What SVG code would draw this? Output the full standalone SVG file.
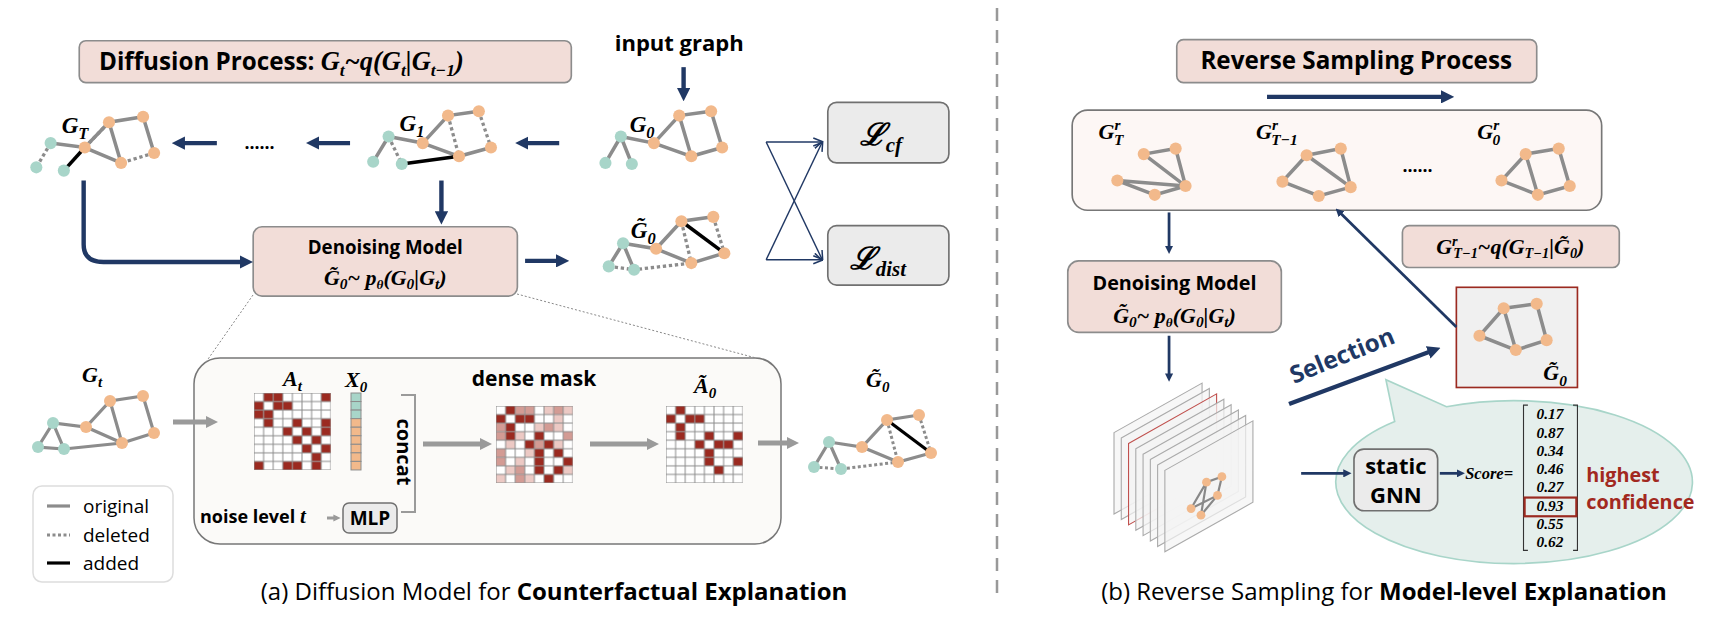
<svg xmlns="http://www.w3.org/2000/svg" width="1726" height="626" viewBox="0 0 1726 626">
<style>
.sans{font-family:"Open Sans","Noto Sans","Liberation Sans",sans-serif}
.b{font-weight:bold}
.m{font-family:"Liberation Serif",serif;font-style:italic;font-weight:bold}
.mr{font-family:"Liberation Serif",serif;font-style:italic}
.pink{fill:#f2ddd8;stroke:#8c8c8c;stroke-width:1.5}
.gray{fill:#ebebeb;stroke:#707070;stroke-width:1.5}
.e{stroke:#8c8c8c;stroke-width:3.2;fill:none}
.d{stroke:#8c8c8c;stroke-width:3;stroke-dasharray:3 2.5;fill:none}
.a{stroke:#000;stroke-width:3.2;fill:none}
.o{fill:#f2b98b}
.t{fill:#a8d5c9}
.arr{stroke:#203864;stroke-width:4;fill:none}
.arr2{stroke:#203864;stroke-width:2.5;fill:none}
.thin{stroke:#203864;stroke-width:1.3;fill:none}
.ga{stroke:#9a9a9a;stroke-width:5;fill:none}
.cell{fill:#9b2a20}
.c1{fill:#ecc9c4}
.c2{fill:#d39b94}
</style>
<defs>
<marker id="ah" viewBox="0 0 10 10" refX="5" refY="5" markerWidth="3" markerHeight="3" orient="auto"><path d="M0,0 L10,5 L0,10 z" fill="#203864"/></marker>
<marker id="ahs" viewBox="0 0 10 10" refX="9" refY="5" markerWidth="7" markerHeight="7" orient="auto"><path d="M0,1 L10,5 L0,9" fill="none" stroke="#203864" stroke-width="1.5"/></marker>
<marker id="gah" viewBox="0 0 10 10" refX="5" refY="5" markerWidth="2.4" markerHeight="3" orient="auto"><path d="M0,0 L10,5 L0,10 z" fill="#9a9a9a"/></marker>
<pattern id="grid" width="9.6" height="8.55" patternUnits="userSpaceOnUse"><rect width="9.6" height="8.55" fill="none" stroke="#8c8c8c" stroke-width="1"/></pattern>
</defs>

<!-- divider -->
<line x1="997" y1="8" x2="997" y2="598" stroke="#999" stroke-width="2.5" stroke-dasharray="13 9"/>

<g transform="scale(1.1008)">
<g id="diffusion-box">
<rect class="pink" x="72" y="37" width="447" height="38" rx="6"/>
<text x="90" y="64" class="sans b" font-size="22">Diffusion Process:  <tspan class="m" font-size="24">G<tspan font-size="16" baseline-shift="-5">t</tspan>~<tspan class="mr">q</tspan>(G<tspan font-size="16" baseline-shift="-5">t</tspan>|G<tspan font-size="16" baseline-shift="-5">t−1</tspan>)</tspan></text>
</g>
<text id="input-graph" x="617" y="46" text-anchor="middle" class="sans b" font-size="20">input graph</text>

<g id="GT">
<text x="56" y="121" class="m" font-size="21">G<tspan font-size="15" baseline-shift="-5">T</tspan></text>
<path class="e" d="M46,130 L77,134 L99,111 L130,106 L140,139 M77,134 L110,148 L99,111"/>
<path class="d" d="M46,130 L33,152 M77,134 L99,111 M140,139 L110,148"/>
<path class="a" d="M58,155 L77,134"/>
<circle class="t" cx="46" cy="130" r="5.5"/><circle class="t" cx="33" cy="152" r="5.5"/><circle class="t" cx="58" cy="155" r="5.5"/>
<circle class="o" cx="77" cy="134" r="5.5"/><circle class="o" cx="99" cy="111" r="5.5"/><circle class="o" cx="130" cy="106" r="5.5"/><circle class="o" cx="140" cy="139" r="5.5"/><circle class="o" cx="110" cy="148" r="5.5"/>
</g>
<text x="222" y="135" class="sans b" font-size="16">......</text>

<g id="G1">
<text x="363" y="119" class="m" font-size="21">G<tspan font-size="15" baseline-shift="-5">1</tspan></text>
<path class="e" d="M353,124 L339,147 M353,124 L384,130 L407,105 L435,101 M446,134 L417,142 L384,130"/>
<path class="d" d="M353,124 L365,149 M407,105 L417,142 M435,101 L446,134"/>
<path class="a" d="M365,149 L417,142"/>
<circle class="t" cx="353" cy="124" r="5.5"/><circle class="t" cx="339" cy="147" r="5.5"/><circle class="t" cx="365" cy="149" r="5.5"/>
<circle class="o" cx="384" cy="130" r="5.5"/><circle class="o" cx="407" cy="105" r="5.5"/><circle class="o" cx="435" cy="101" r="5.5"/><circle class="o" cx="446" cy="134" r="5.5"/><circle class="o" cx="417" cy="142" r="5.5"/>
</g>

<g id="G0">
<text x="572" y="120" class="m" font-size="21">G<tspan font-size="15" baseline-shift="-5">0</tspan></text>
<path class="e" d="M564,124 L550,148 M564,124 L574,149 M564,124 L594,130 L617,105 L646,101 L656,134 L628,142 L594,130 M617,105 L628,142"/>
<circle class="t" cx="564" cy="124" r="5.5"/><circle class="t" cx="550" cy="148" r="5.5"/><circle class="t" cx="574" cy="149" r="5.5"/>
<circle class="o" cx="594" cy="130" r="5.5"/><circle class="o" cx="617" cy="105" r="5.5"/><circle class="o" cx="646" cy="101" r="5.5"/><circle class="o" cx="656" cy="134" r="5.5"/><circle class="o" cx="628" cy="142" r="5.5"/>
</g>

<g id="denoise-left">
<rect class="pink" x="230" y="206" width="240" height="63" rx="8"/>
<text x="350" y="231" text-anchor="middle" class="sans b" font-size="17">Denoising Model</text>
<text x="350" y="259" text-anchor="middle" class="m" font-size="20">G̃<tspan font-size="14" baseline-shift="-4">0</tspan>~ <tspan class="mr">p<tspan font-size="12" baseline-shift="-4">θ</tspan></tspan>(G<tspan font-size="14" baseline-shift="-4">0</tspan>|G<tspan font-size="14" baseline-shift="-4">t</tspan>)</text>
</g>

<g id="G0-tilde">
<text x="573" y="216" class="m" font-size="21">G̃<tspan font-size="15" baseline-shift="-5">0</tspan></text>
<path class="e" d="M566,221 L553,242 M566,221 L576,245 M566,221 L596,226 L619,201 L648,197 M658,230 L628,239 L596,226"/>
<path class="d" d="M553,242 L576,245 L628,239 M619,201 L628,239 M648,197 L658,230"/>
<path class="a" d="M619,201 L658,230"/>
<circle class="t" cx="566" cy="221" r="5.5"/><circle class="t" cx="553" cy="242" r="5.5"/><circle class="t" cx="576" cy="245" r="5.5"/>
<circle class="o" cx="596" cy="226" r="5.5"/><circle class="o" cx="619" cy="201" r="5.5"/><circle class="o" cx="648" cy="197" r="5.5"/><circle class="o" cx="658" cy="230" r="5.5"/><circle class="o" cx="628" cy="239" r="5.5"/>
</g>

<g id="L-cf"><rect class="gray" x="752" y="93" width="110" height="55" rx="8"/><text x="781" y="132" class="m" font-size="28">ℒ<tspan font-size="19" baseline-shift="-6">cf</tspan></text></g>
<g id="L-dist"><rect class="gray" x="752" y="205" width="110" height="54" rx="8"/><text x="772" y="244" class="m" font-size="28">ℒ<tspan font-size="19" baseline-shift="-6">dist</tspan></text></g>
</g>

<!-- bottom left (true coordinates) -->
<g id="Gt">
<text x="82" y="382" class="m" font-size="22">G<tspan font-size="15" baseline-shift="-5">t</tspan></text>
<path class="e" d="M53,423 L38,447 L64,449 L53,423 L86,427 L110,401 L143,396 L154,433 L122,443 L86,427 M110,401 L122,443 M64,449 L122,443"/>
<circle class="t" cx="53" cy="423" r="6"/><circle class="t" cx="38" cy="447" r="6"/><circle class="t" cx="64" cy="449" r="6"/>
<circle class="o" cx="86" cy="427" r="6"/><circle class="o" cx="110" cy="401" r="6"/><circle class="o" cx="143" cy="396" r="6"/><circle class="o" cx="154" cy="433" r="6"/><circle class="o" cx="122" cy="443" r="6"/>
</g>

<g id="module-box">
<rect x="194" y="358" width="587" height="186" rx="26" fill="#fbfaf8" stroke="#777" stroke-width="1.5"/>
</g>

<g id="At">
<text x="283" y="386" class="m" font-size="22">A<tspan font-size="15" baseline-shift="-5">t</tspan></text>
<g transform="translate(254,393)">
<rect width="76.8" height="76.95" fill="#fff"/>
<g class="cell" transform="scale(9.6,8.55)">
<rect x="1" y="0" width="1" height="1"/><rect x="2" y="0" width="1" height="1"/><rect x="7" y="0" width="1" height="1"/>
<rect x="0" y="1" width="1" height="1"/><rect x="2" y="1" width="1" height="1"/><rect x="3" y="1" width="1" height="1"/>
<rect x="0" y="2" width="1" height="1"/><rect x="1" y="2" width="1" height="1"/>
<rect x="1" y="3" width="1" height="1"/><rect x="4" y="3" width="1" height="1"/><rect x="7" y="3" width="1" height="1"/>
<rect x="3" y="4" width="1" height="1"/><rect x="5" y="4" width="1" height="1"/><rect x="7" y="4" width="1" height="1"/>
<rect x="4" y="5" width="1" height="1"/><rect x="6" y="5" width="1" height="1"/>
<rect x="5" y="6" width="1" height="1"/><rect x="7" y="6" width="1" height="1"/>
<rect x="6" y="7" width="1" height="1"/>
<rect x="0" y="8" width="1" height="1"/><rect x="3" y="8" width="1" height="1"/><rect x="4" y="8" width="1" height="1"/><rect x="6" y="8" width="1" height="1"/>
</g>
<rect width="76.8" height="76.95" fill="url(#grid)"/>
</g>
</g>

<g id="X0">
<text x="345" y="387" class="m" font-size="22">X<tspan font-size="15" baseline-shift="-5">0</tspan></text>
<g stroke="#8c8c8c" stroke-width="1">
<rect x="351" y="393" width="10" height="8.55" fill="#a8d5c9"/><rect x="351" y="401.55" width="10" height="8.55" fill="#a8d5c9"/><rect x="351" y="410.1" width="10" height="8.55" fill="#a8d5c9"/>
<rect x="351" y="418.65" width="10" height="8.55" fill="#f2b98b"/><rect x="351" y="427.2" width="10" height="8.55" fill="#f2b98b"/><rect x="351" y="435.75" width="10" height="8.55" fill="#f2b98b"/><rect x="351" y="444.3" width="10" height="8.55" fill="#f2b98b"/><rect x="351" y="452.85" width="10" height="8.55" fill="#f2b98b"/><rect x="351" y="461.4" width="10" height="8.55" fill="#f2b98b"/>
</g>
</g>
<text x="397" y="452" class="sans b" font-size="20" text-anchor="middle" transform="rotate(90 397 452)">concat</text>

<g id="dense-mask">
<text x="534" y="386" text-anchor="middle" class="sans b" font-size="21">dense mask</text>
<g transform="translate(496,406)">
<rect width="76.8" height="76.95" fill="#fff"/>
<g transform="scale(9.6,8.55)">
<g class="c1">
<rect x="5" y="0" width="1" height="1"/><rect x="7" y="0" width="1" height="1"/><rect x="6" y="1" width="1" height="1"/><rect x="4" y="2" width="1" height="1"/><rect x="6" y="2" width="1" height="1"/><rect x="2" y="3" width="1" height="1"/><rect x="1" y="4" width="1" height="1"/><rect x="3" y="5" width="1" height="1"/><rect x="1" y="7" width="1" height="1"/><rect x="3" y="8" width="1" height="1"/><rect x="0" y="8" width="1" height="1"/><rect x="7" y="7" width="1" height="1"/><rect x="6" y="4" width="1" height="1"/><rect x="2" y="6" width="1" height="1"/>
</g>
<g class="c2">
<rect x="2" y="0" width="1" height="1"/><rect x="3" y="0" width="1" height="1"/><rect x="6" y="0" width="1" height="1"/><rect x="0" y="2" width="1" height="1"/><rect x="5" y="2" width="1" height="1"/><rect x="0" y="3" width="1" height="1"/><rect x="4" y="4" width="1" height="1"/><rect x="0" y="6" width="1" height="1"/><rect x="2" y="7" width="1" height="1"/><rect x="2" y="8" width="1" height="1"/><rect x="7" y="3" width="1" height="1"/><rect x="0" y="5" width="1" height="1"/>
</g>
<g class="cell">
<rect x="1" y="0" width="1" height="1"/><rect x="0" y="1" width="1" height="1"/><rect x="2" y="1" width="1" height="1"/><rect x="3" y="1" width="1" height="1"/><rect x="1" y="2" width="1" height="1"/><rect x="1" y="3" width="1" height="1"/><rect x="4" y="3" width="1" height="1"/><rect x="3" y="4" width="1" height="1"/><rect x="5" y="4" width="1" height="1"/><rect x="4" y="5" width="1" height="1"/><rect x="6" y="5" width="1" height="1"/><rect x="4" y="6" width="1" height="1"/><rect x="7" y="6" width="1" height="1"/><rect x="4" y="7" width="1" height="1"/><rect x="6" y="7" width="1" height="1"/><rect x="5" y="8" width="1" height="1"/>
</g>
</g>
<rect width="76.8" height="76.95" fill="url(#grid)"/>
</g>
</g>

<g id="A0-tilde">
<text x="694" y="393" class="m" font-size="22">Ã<tspan font-size="15" baseline-shift="-5">0</tspan></text>
<g transform="translate(666,406)">
<rect width="76.8" height="76.95" fill="#fff"/>
<g class="cell" transform="scale(9.6,8.55)">
<rect x="1" y="0" width="1" height="1"/><rect x="0" y="1" width="1" height="1"/><rect x="2" y="1" width="1" height="1"/><rect x="3" y="1" width="1" height="1"/><rect x="1" y="2" width="1" height="1"/><rect x="1" y="3" width="1" height="1"/><rect x="4" y="3" width="1" height="1"/><rect x="7" y="3" width="1" height="1"/><rect x="3" y="4" width="1" height="1"/><rect x="5" y="4" width="1" height="1"/><rect x="6" y="4" width="1" height="1"/><rect x="4" y="5" width="1" height="1"/><rect x="4" y="6" width="1" height="1"/><rect x="7" y="6" width="1" height="1"/><rect x="5" y="7" width="1" height="1"/>
</g>
<rect width="76.8" height="76.95" fill="url(#grid)"/>
</g>
</g>

<g id="noise">
<text x="200" y="523" class="sans b" font-size="18">noise level <tspan class="m" font-size="21">t</tspan></text>
<rect x="343" y="503" width="54" height="30" rx="6" class="gray"/>
<text x="370" y="525" text-anchor="middle" class="sans b" font-size="19">MLP</text>
</g>

<g id="G0-tilde-out">
<text x="866" y="387" class="m" font-size="22">G̃<tspan font-size="15" baseline-shift="-5">0</tspan></text>
<path class="e" d="M829,442 L814,467 M829,442 L841,469 M829,442 L862,447 L887,420 L919,415 M931,453 L898,462 L862,447"/>
<path class="d" d="M814,467 L841,469 L898,462 M887,420 L898,462 M919,415 L931,453"/>
<path class="a" d="M887,420 L931,453"/>
<circle class="t" cx="829" cy="442" r="6"/><circle class="t" cx="814" cy="467" r="6"/><circle class="t" cx="841" cy="469" r="6"/>
<circle class="o" cx="862" cy="447" r="6"/><circle class="o" cx="887" cy="420" r="6"/><circle class="o" cx="919" cy="415" r="6"/><circle class="o" cx="931" cy="453" r="6"/><circle class="o" cx="898" cy="462" r="6"/>
</g>

<g id="legend">
<rect x="33" y="486" width="140" height="96" rx="9" fill="#fff" stroke="#ddd" stroke-width="1.5"/>
<line class="e" x1="47" y1="506" x2="70" y2="506"/><text x="83" y="513" class="sans" font-size="19">original</text>
<line class="d" x1="47" y1="535" x2="70" y2="535"/><text x="83" y="542" class="sans" font-size="19">deleted</text>
<line class="a" x1="47" y1="563" x2="70" y2="563"/><text x="83" y="570" class="sans" font-size="19">added</text>
</g>
<text id="caption-a" x="554" y="600" text-anchor="middle" class="sans" font-size="24">(a) Diffusion Model for <tspan class="b">Counterfactual Explanation</tspan></text>
<text id="caption-b" x="1384" y="600" text-anchor="middle" class="sans" font-size="24">(b) Reverse Sampling for <tspan class="b">Model-level Explanation</tspan></text>

<!-- right panel (display coordinates, scaled) -->
<g transform="scale(1.1008)">
<g id="reverse-box">
<rect class="pink" x="1069" y="36" width="327" height="39" rx="6"/>
<text x="1232" y="63" text-anchor="middle" class="sans b" font-size="22">Reverse Sampling Process</text>
</g>
<g id="chain">
<rect x="974" y="100" width="481" height="91" rx="14" fill="#fdf7f5" stroke="#777" stroke-width="1.5"/>
<text x="998" y="126" class="m" font-size="20">G<tspan font-size="14" baseline-shift="8">r</tspan><tspan font-size="14" dx="-6" baseline-shift="-5">T</tspan></text>
<path class="e" d="M1039,140 L1068,135 L1077,169 L1039,140 M1015,164 L1077,169 M1015,164 L1049,177 L1077,169"/>
<circle class="o" cx="1039" cy="140" r="5.5"/><circle class="o" cx="1068" cy="135" r="5.5"/><circle class="o" cx="1015" cy="164" r="5.5"/><circle class="o" cx="1077" cy="169" r="5.5"/><circle class="o" cx="1049" cy="177" r="5.5"/>
<text x="1141" y="126" class="m" font-size="20">G<tspan font-size="14" baseline-shift="8">r</tspan><tspan font-size="14" dx="-6" baseline-shift="-5">T−1</tspan></text>
<path class="e" d="M1187,141 L1218,135 L1227,170 L1198,178 L1165,165 L1187,141 L1227,170"/>
<circle class="o" cx="1187" cy="141" r="5.5"/><circle class="o" cx="1218" cy="135" r="5.5"/><circle class="o" cx="1165" cy="165" r="5.5"/><circle class="o" cx="1227" cy="170" r="5.5"/><circle class="o" cx="1198" cy="178" r="5.5"/>
<text x="1274" y="156" class="sans b" font-size="16">......</text>
<text x="1342" y="126" class="m" font-size="20">G<tspan font-size="14" baseline-shift="8">r</tspan><tspan font-size="14" dx="-6" baseline-shift="-5">0</tspan></text>
<path class="e" d="M1386,140 L1416,135 L1426,169 L1397,177 L1364,164 L1386,140 L1397,177"/>
<circle class="o" cx="1386" cy="140" r="5.5"/><circle class="o" cx="1416" cy="135" r="5.5"/><circle class="o" cx="1364" cy="164" r="5.5"/><circle class="o" cx="1426" cy="169" r="5.5"/><circle class="o" cx="1397" cy="177" r="5.5"/>
</g>

<g id="q-label">
<rect class="pink" x="1274" y="205" width="197" height="38" rx="6"/>
<text x="1372" y="231" text-anchor="middle" class="m" font-size="20">G<tspan font-size="13" baseline-shift="7">r</tspan><tspan font-size="13" dx="-4" baseline-shift="-4">T−1</tspan>~<tspan class="mr">q</tspan>(G<tspan font-size="13" baseline-shift="-4">T−1</tspan>|G̃<tspan font-size="13" baseline-shift="-4">0</tspan>)</text>
</g>

<g id="denoise-right">
<rect class="pink" x="970" y="237" width="194" height="65" rx="10"/>
<text x="1067" y="263" text-anchor="middle" class="sans b" font-size="18">Denoising Model</text>
<text x="1067" y="293" text-anchor="middle" class="m" font-size="20">G̃<tspan font-size="14" baseline-shift="-4">0</tspan>~ <tspan class="mr">p<tspan font-size="12" baseline-shift="-4">θ</tspan></tspan>(G<tspan font-size="14" baseline-shift="-4">0</tspan>|G<tspan font-size="14" baseline-shift="-4">t</tspan>)</text>
</g>

<g id="selected">
<rect x="1323" y="261" width="110" height="91" fill="#f0f0f0" stroke="#9b2a20" stroke-width="1.5"/>
<path class="e" d="M1366,280 L1396,276 L1405,309 L1377,318 L1344,305 L1366,280 L1377,318"/>
<circle class="o" cx="1366" cy="280" r="5.5"/><circle class="o" cx="1396" cy="276" r="5.5"/><circle class="o" cx="1344" cy="305" r="5.5"/><circle class="o" cx="1405" cy="309" r="5.5"/><circle class="o" cx="1377" cy="318" r="5.5"/>
<text x="1402" y="345" class="m" font-size="20">G̃<tspan font-size="14" baseline-shift="-5">0</tspan></text>
</g>
<text x="1222" y="330" text-anchor="middle" class="sans b" font-size="22" fill="#203864" transform="rotate(-22 1222 330)">Selection</text>

<g id="stack">
<g fill="#f4f4f4" fill-opacity="0.7" stroke="#aaa" stroke-width="1">
<polygon points="1012,393 1092,348 1092,422 1012,467"/>
<polygon points="1018.6,397.9 1098.6,352.9 1098.6,426.9 1018.6,471.9"/>
<polygon points="1025.2,402.8 1105.2,357.8 1105.2,431.8 1025.2,476.8" stroke="#c0504d"/>
<polygon points="1031.8,407.7 1111.8,362.7 1111.8,436.7 1031.8,481.7"/>
<polygon points="1038.4,412.6 1118.4,367.6 1118.4,441.6 1038.4,486.6"/>
<polygon points="1045,417.5 1125,372.5 1125,446.5 1045,491.5"/>
<polygon points="1051.6,422.4 1131.6,377.4 1131.6,451.4 1051.6,496.4"/>
<polygon points="1058.2,427.3 1138.2,382.3 1138.2,456.3 1058.2,501.3"/>
</g>
<path d="M1082,462 L1096,438 L1110,433 L1106,450 L1091,468 M1096,438 L1091,468 M1082,462 L1106,450" stroke="#888" stroke-width="2" fill="none"/>
<circle class="o" cx="1082" cy="462" r="4"/><circle class="o" cx="1096" cy="438" r="4"/><circle class="o" cx="1110" cy="433" r="4"/><circle class="o" cx="1106" cy="450" r="4"/><circle class="o" cx="1091" cy="468" r="4"/>
</g>

<g id="bubble">
<path d="M1267,383 L1259,345 L1314,369.5 A162,74 0 1 1 1267,383 Z" fill="#e5efec" stroke="#a8d5c9" stroke-width="1.5"/>
<rect x="1230" y="408" width="76" height="56" rx="9" class="gray"/>
<text x="1268" y="431" text-anchor="middle" class="sans b" font-size="20">static</text>
<text x="1268" y="457" text-anchor="middle" class="sans b" font-size="20">GNN</text>
<text x="1331" y="435" class="mr b" font-size="15">Score=</text>
<path d="M1388,368 H1384 V500 H1388 M1429,368 H1433 V500 H1429" stroke="#333" stroke-width="1" fill="none"/>
<g class="m" font-size="14" font-style="normal" text-anchor="middle">
<text x="1408" y="381">0.17</text><text x="1408" y="397.6">0.87</text><text x="1408" y="414.2">0.34</text><text x="1408" y="430.8">0.46</text><text x="1408" y="447.4">0.27</text><text x="1408" y="464">0.93</text><text x="1408" y="480.6">0.55</text><text x="1408" y="497.2">0.62</text>
</g>
<rect x="1385" y="452" width="47" height="17" fill="none" stroke="#9b2a20" stroke-width="2"/>
<text x="1441" y="438" class="sans b" font-size="18" fill="#a2291f">highest</text>
<text x="1441" y="462" class="sans b" font-size="18" fill="#a2291f">confidence</text>
</g>
</g>

<g id="connectors">
<line x1="253" y1="295" x2="206" y2="362" stroke="#888" stroke-width="1" stroke-dasharray="2 2"/>
<line x1="517" y1="294" x2="756" y2="358" stroke="#888" stroke-width="1" stroke-dasharray="2 2"/>
<line class="ga" x1="173" y1="422" x2="212" y2="422" marker-end="url(#gah)"/>
<line class="ga" x1="423" y1="444" x2="486" y2="444" marker-end="url(#gah)"/>
<line class="ga" x1="590" y1="444" x2="653" y2="444" marker-end="url(#gah)"/>
<line class="ga" x1="758" y1="443" x2="793" y2="443" marker-end="url(#gah)"/>
<line stroke="#9a9a9a" stroke-width="3" x1="327" y1="518" x2="337" y2="518" marker-end="url(#gah)"/>
<path d="M401,395 H415 V512 H401" fill="none" stroke="#9a9a9a" stroke-width="2"/>
<g transform="scale(1.1008)">
<line class="arr" x1="621" y1="61" x2="621" y2="86" marker-end="url(#ah)"/>
<line class="arr" x1="508" y1="130" x2="474" y2="130" marker-end="url(#ah)"/>
<line class="arr" x1="318" y1="130" x2="284" y2="130" marker-end="url(#ah)"/>
<line class="arr" x1="197" y1="130" x2="162" y2="130" marker-end="url(#ah)"/>
<line class="arr" x1="401" y1="164" x2="401" y2="198" marker-end="url(#ah)"/>
<path class="arr" d="M76,164 V222 Q76,238 94,238 H224" marker-end="url(#ah)"/>
<line class="arr" x1="477" y1="237" x2="511" y2="237" marker-end="url(#ah)"/>
<g class="thin">
<path d="M696,129 H747" marker-end="url(#ahs)"/>
<path d="M696,129 L747,236" marker-end="url(#ahs)"/>
<path d="M696,236 H747" marker-end="url(#ahs)"/>
<path d="M696,236 L747,129" marker-end="url(#ahs)"/>
</g>
<line class="arr" x1="1151" y1="88" x2="1315" y2="88" marker-end="url(#ah)"/>
<line class="arr2" x1="1062" y1="193" x2="1062" y2="227" marker-end="url(#ah)"/>
<line class="arr2" x1="1062" y1="305" x2="1062" y2="343" marker-end="url(#ah)"/>
<line class="arr2" x1="1323" y1="297" x2="1216" y2="192" marker-end="url(#ah)"/>
<line class="arr" x1="1171" y1="367" x2="1303" y2="318" marker-end="url(#ah)"/>
<line class="arr2" x1="1182" y1="430" x2="1224" y2="430" marker-end="url(#ah)"/>
<line class="arr2" x1="1308" y1="430" x2="1327" y2="430" marker-end="url(#ah)"/>
</g>
</g>
</svg>
